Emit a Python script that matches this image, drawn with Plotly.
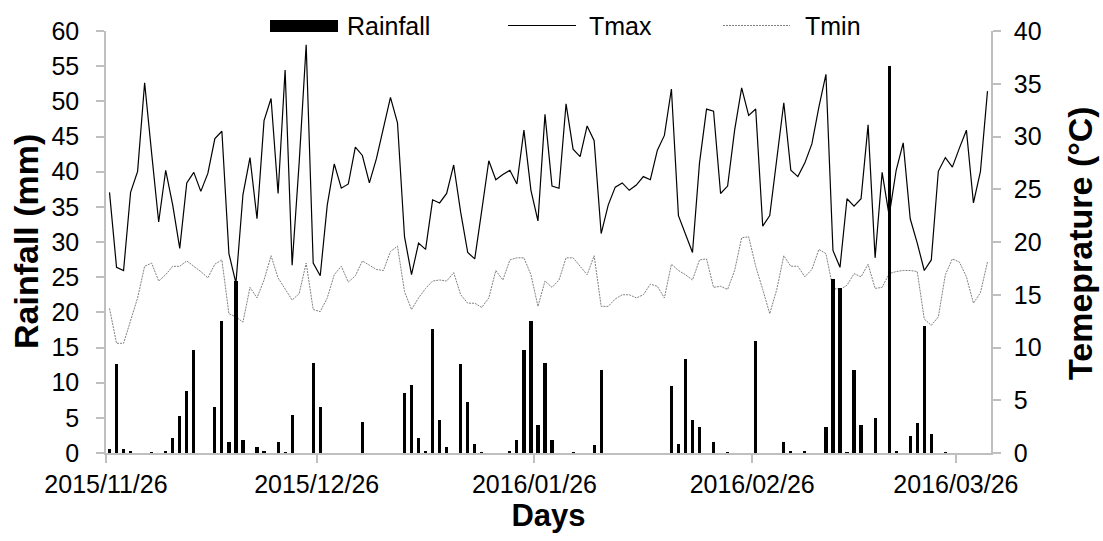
import pandas as pd
import plotly.graph_objects as go

# ---------------- data ----------------
start_date = "2015-11-26"
tick_dates = ["2015-11-26", "2015-12-26", "2016-01-26", "2016-02-26", "2016-03-26"]
tick_labels = ["2015/11/26", "2015/12/26", "2016/01/26", "2016/02/26", "2016/03/26"]

rainfall = [
    0.6, 12.6, 0.6, 0.35, 0, 0, 0.1, 0, 0.35, 2.1,
    5.2, 8.75, 14.6, 0, 0, 6.5, 18.7, 1.6, 24.4, 1.9,
    0, 0.9, 0.35, 0, 1.6, 0.1, 5.4, 0, 0, 12.8,
    6.5, 0, 0, 0, 0, 0, 4.4, 0, 0, 0,
    0, 0, 8.5, 9.7, 2.1, 0.3, 17.7, 4.7, 0.9, 0,
    12.6, 7.2, 1.35, 0.1, 0, 0, 0, 0.3, 1.9, 14.6,
    18.7, 4.0, 12.8, 1.9, 0, 0, 0.1, 0, 0, 1.1,
    11.8, 0, 0, 0, 0, 0, 0, 0, 0, 0,
    9.5, 1.35, 13.3, 4.7, 3.7, 0, 1.6, 0, 0.1, 0,
    0, 0, 15.9, 0, 0, 0, 1.6, 0.3, 0, 0.3,
    0, 0, 3.7, 24.8, 23.5, 0.1, 11.8, 4.0, 0, 5.0,
    0, 55.0, 0.3, 0, 2.4, 4.2, 18.1, 2.7, 0, 0.1,
    0, 0, 0, 0, 0, 0,
]

tmax = [
    24.7, 17.6, 17.3, 24.7, 26.7, 35.1, 28.4, 21.9, 26.8, 23.5,
    19.4, 25.6, 26.6, 24.8, 26.5, 29.8, 30.5, 18.9, 16.1, 24.5,
    28.0, 22.2, 31.5, 33.6, 24.6, 36.3, 17.8, 27.5, 38.7, 18.0,
    16.8, 23.5, 27.4, 25.1, 25.5, 29.0, 28.2, 25.6, 27.9, 30.8,
    33.7, 31.3, 20.5, 16.9, 19.9, 19.3, 24.0, 23.7, 24.6, 27.3,
    22.8, 19.0, 18.4, 23.0, 27.7, 25.9, 26.4, 26.8, 25.5, 30.6,
    24.9, 22.0, 32.1, 25.3, 25.1, 33.1, 28.8, 28.1, 31.0, 29.6,
    20.8, 23.5, 25.2, 25.6, 24.9, 25.4, 26.2, 25.9, 28.7, 30.1,
    34.5, 22.5, 20.8, 19.0, 27.5, 32.6, 32.4, 24.6, 25.3, 30.6,
    34.6, 32.0, 32.6, 21.5, 22.5, 27.8, 33.2, 26.8, 26.2, 27.5,
    29.3, 32.8, 35.9, 19.2, 17.6, 24.1, 23.4, 24.1, 31.1, 18.5,
    26.6, 22.5, 26.8, 29.4, 22.2, 19.9, 17.3, 18.3, 26.7, 28.0,
    27.1, 28.9, 30.6, 23.7, 26.7, 34.3,
]

tmin = [
    13.7, 10.4, 10.4, 12.6, 14.7, 17.7, 18.0, 16.3, 16.9, 17.7,
    17.7, 18.2, 17.7, 17.2, 16.6, 17.9, 18.3, 13.2, 12.9, 12.4,
    15.7, 14.7, 16.4, 18.7, 16.6, 15.6, 14.5, 15.1, 18.0, 13.6,
    13.4, 14.7, 16.9, 17.7, 16.2, 16.8, 18.2, 17.8, 17.4, 17.3,
    19.1, 19.6, 15.3, 13.6, 14.7, 15.6, 16.3, 16.4, 16.3, 17.1,
    15.0, 14.2, 14.2, 13.8, 14.7, 17.3, 16.4, 18.3, 18.5, 18.5,
    16.9, 13.9, 16.3, 15.7, 16.4, 18.5, 18.5, 17.7, 16.9, 18.7,
    13.9, 13.9, 14.6, 15.0, 15.0, 14.7, 15.0, 16.0, 15.8, 14.7,
    17.9, 17.3, 16.9, 16.4, 18.3, 18.4, 15.7, 15.8, 15.5, 17.3,
    20.4, 20.5, 17.7, 15.5, 13.2, 15.5, 18.7, 17.7, 17.7, 16.7,
    17.4, 19.3, 18.9, 15.6, 15.5, 15.9, 17.0, 16.7, 17.9, 15.6,
    15.7, 17.0, 17.2, 17.3, 17.3, 17.2, 12.7, 12.1, 12.9, 16.9,
    18.4, 18.1, 16.7, 14.2, 15.2, 18.1,
]

# each daily value sits in the middle of its day (Excel "between tick marks")
days = pd.date_range(start_date, periods=len(tmax), freq="D") + pd.Timedelta(hours=12)

FONT = "Arial, Liberation Sans, sans-serif"
AXIS_COL = "#bfbfbf"
TICK_SIZE = 25
XTITLE_SIZE = 31
YTITLE_SIZE = 34
TMIN_DASH = "2px,1px"

fig = go.Figure()
# temperature lines on the base axis (right side)
fig.add_trace(go.Scatter(x=days, y=tmax, name="Tmax", mode="lines",
                         line=dict(color="black", width=1.2), yaxis="y"))
fig.add_trace(go.Scatter(x=days, y=tmin, name="Tmin", mode="lines",
                         line=dict(color="#808080", width=1, dash=TMIN_DASH), yaxis="y"))
# rainfall bars on the overlaying axis (left side) so they are drawn on top
fig.add_trace(go.Bar(x=days, y=rainfall, name="Rainfall", yaxis="y2",
                     marker=dict(color="black", line=dict(width=0)),
                     width=0.45 * 86400000))

fig.update_layout(
    width=1103, height=541,
    margin=dict(l=106, r=112, t=31, b=88, pad=0, autoexpand=False),
    paper_bgcolor="white", plot_bgcolor="white",
    font=dict(family=FONT, color="black", size=TICK_SIZE),
    showlegend=False,
    bargap=0,
    xaxis=dict(
        type="date", automargin=False,
        range=["2015-11-26", "2016-03-31"],
        tickmode="array", tickvals=tick_dates, ticktext=tick_labels,
        ticks="outside", ticklen=8, tickwidth=1.5, tickcolor=AXIS_COL,
        showline=True, linecolor=AXIS_COL, linewidth=1.5,
        showgrid=False, zeroline=False,
        tickfont=dict(size=TICK_SIZE),
        title=dict(text="<b>Days</b>", font=dict(size=XTITLE_SIZE), standoff=3),
    ),
    yaxis=dict(
        side="right", range=[0, 40], dtick=5, automargin=False,
        ticks="outside", ticklen=8, tickwidth=1.5, tickcolor=AXIS_COL,
        showline=True, linecolor=AXIS_COL, linewidth=1.5,
        showgrid=False, zeroline=False,
        tickfont=dict(size=TICK_SIZE), ticklabelstandoff=8,
    ),
    yaxis2=dict(
        side="left", overlaying="y", range=[0, 60], dtick=5, automargin=False,
        ticks="outside", ticklen=8, tickwidth=1.5, tickcolor=AXIS_COL,
        showline=True, linecolor=AXIS_COL, linewidth=1.5,
        showgrid=False, zeroline=False,
        tickfont=dict(size=TICK_SIZE), ticklabelstandoff=12,
    ),
)

# ---------------- pixel helpers for paper-positioned text ----------------
def px_x(px):
    return (px - 106) / 885.0

def px_y(py):
    return (453 - py) / 422.0

# y-axis titles
fig.add_annotation(text="<b>Rainfall (mm)</b>", xref="paper", yref="paper",
                   x=px_x(26), y=px_y(242), xanchor="center", yanchor="middle",
                   textangle=-90, showarrow=False, font=dict(size=YTITLE_SIZE, color="black"))
fig.add_annotation(text="<b>Temeprature (°C)</b>", xref="paper", yref="paper",
                   x=px_x(1080), y=px_y(243), xanchor="center", yanchor="middle",
                   textangle=-90, showarrow=False, font=dict(size=YTITLE_SIZE, color="black"))

# legend (drawn manually to match Excel's wide keys)
legend_items = [
    ("Rainfall", "bar", 270, 338, 345),
    ("Tmax", "line", 508, 576, 587),
    ("Tmin", "dot", 723, 790, 803),
]
for label, kind, x0, x1, tx in legend_items:
    if kind == "bar":
        fig.add_shape(type="rect", xref="paper", yref="paper",
                      x0=px_x(x0), x1=px_x(x1), y0=px_y(32), y1=px_y(20),
                      fillcolor="black", line=dict(width=0), layer="above")
    else:
        fig.add_shape(type="line", xref="paper", yref="paper",
                      x0=px_x(x0), x1=px_x(x1), y0=px_y(25.5), y1=px_y(25.5),
                      line=dict(color="black" if kind == "line" else "#808080",
                                width=1.2 if kind == "line" else 1,
                                dash="solid" if kind == "line" else TMIN_DASH),
                      layer="above")
    fig.add_annotation(text=label, xref="paper", yref="paper",
                       x=px_x(tx), y=px_y(25.5), xanchor="left", yanchor="middle",
                       showarrow=False, font=dict(size=TICK_SIZE, color="black"))

fig.write_html("out.html")
